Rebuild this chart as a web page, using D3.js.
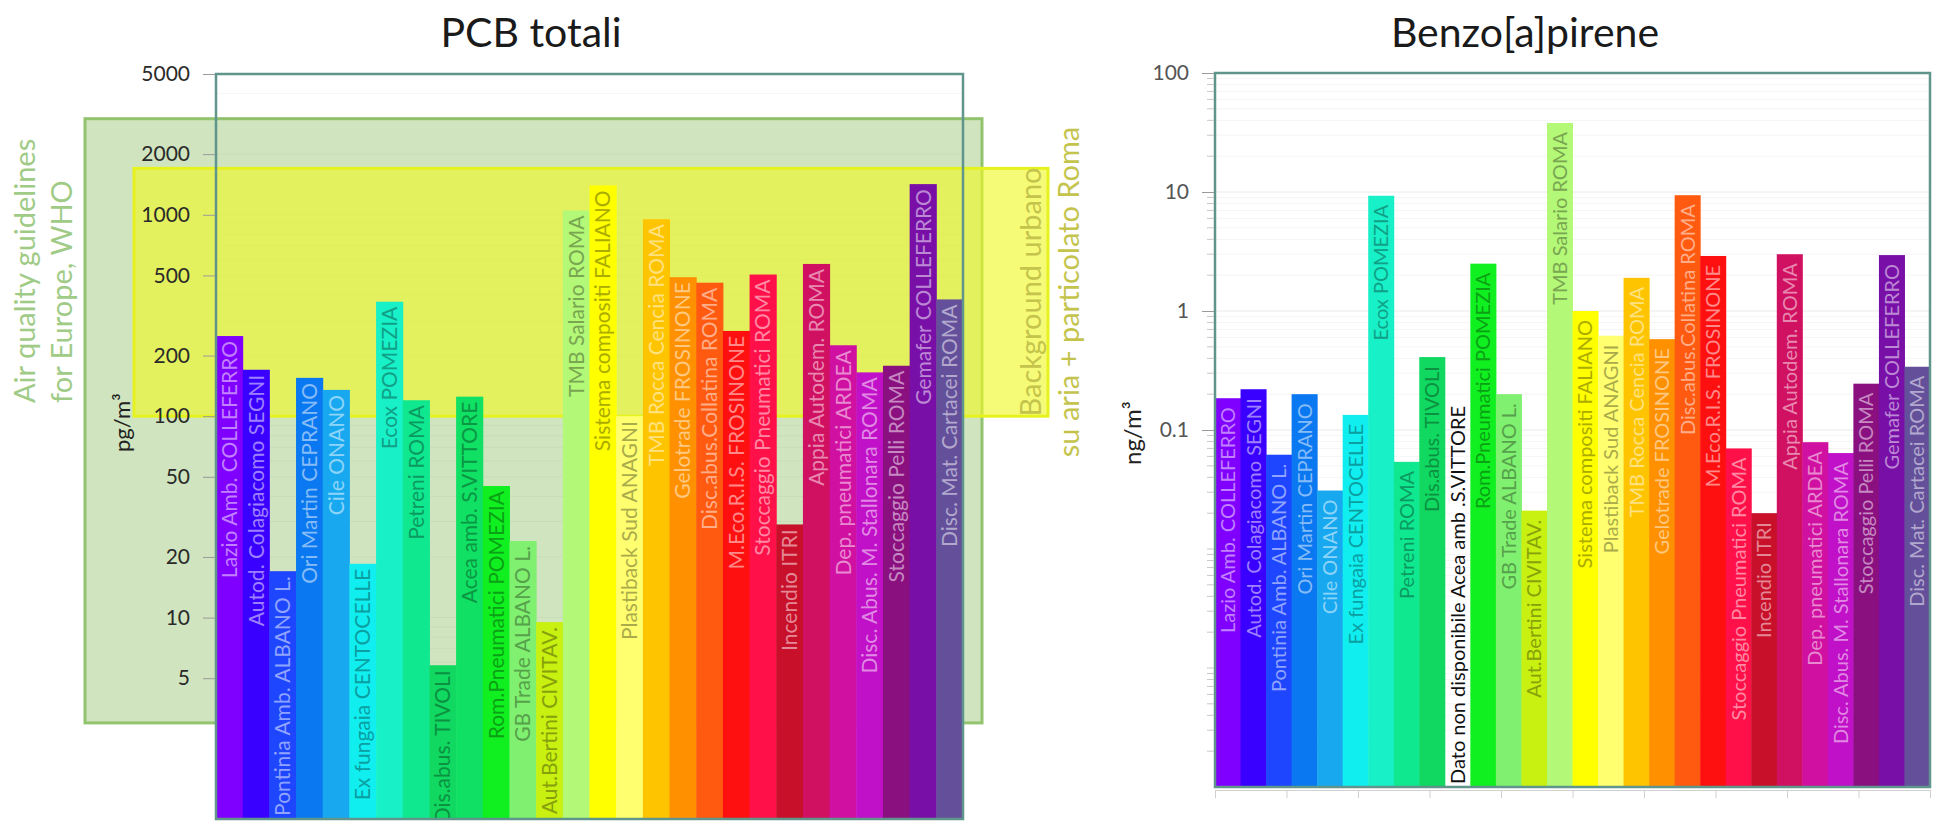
<!DOCTYPE html>
<html><head><meta charset="utf-8">
<script src="https://cdn.jsdelivr.net/npm/d3@7"></script>
<style>
body{margin:0;background:#fff;}
svg{display:block;font-family:Lato,"Open Sans",sans-serif;}
</style>
</head><body>
<svg id="c" width="1937" height="821"></svg>
<script>
// ---------------- data ----------------
const categories = [
  "Lazio Amb. COLLEFERRO","Autod. Colagiacomo SEGNI","Pontinia Amb. ALBANO L.","Ori Martin CEPRANO",
  "Cile ONANO","Ex fungaia CENTOCELLE","Ecox POMEZIA","Petreni ROMA","Dis.abus. TIVOLI",
  "Acea amb. S.VITTORE","Rom.Pneumatici POMEZIA","GB Trade  ALBANO L.","Aut.Bertini CIVITAV.",
  "TMB Salario ROMA","Sistema compositi FALIANO","Plastiback Sud ANAGNI","TMB Rocca Cencia ROMA",
  "Gelotrade FROSINONE","Disc.abus.Collatina ROMA","M.Eco.R.I.S. FROSINONE","Stoccaggio Pneumatici ROMA",
  "Incendio ITRI","Appia Autodem. ROMA","Dep. pneumatici  ARDEA","Disc. Abus. M. Stallonara ROMA",
  "Stoccaggio Pelli ROMA","Gemafer COLLEFERRO","Disc. Mat. Cartacei ROMA"
];
// PCB totali, pg/m3
const pcbValues = [250,170,17,155,135,18.5,370,120,5.8,125,45,24,9.5,1050,1400,100,950,490,460,265,505,29,570,225,165,178,1420,380];
// Benzo[a]pirene, ng/m3 (null = not available)
const bapValues = [0.185,0.22,0.062,0.2,0.031,0.134,9.3,0.054,0.41,null,2.5,0.2,0.021,38,1.0,0.62,1.9,0.58,9.4,2.9,0.07,0.02,3.0,0.079,0.064,0.245,2.95,0.34];
const bapMissingLabel = "Dato non disponibile Acea amb .S.VITTORE";
const pcbTicks = [5,10,20,50,100,200,500,1000,2000,5000];
const bapTicks = [0.1,1,10,100];
const whoGuideline = [3,3000];       // pg/m3 band
const romaBackground = [100,1700];   // pg/m3 band
const titles = ["PCB totali","Benzo[a]pirene"];
const units = ["pg/m³","ng/m³"];
const whoText = ["Air quality guidelines","for Europe, WHO"];
const bgText = ["Background urbano","su  aria + particolato Roma"];

// ---------------- style ----------------
const barColors = ["#8000ff","#3a00ff","#1e46ff","#0a78f0","#18a8f0","#10eef0","#18f0c8","#10e890","#10d860",
  "#10e064","#10f020","#80f070","#c8f010","#b4f878","#ffff00","#ffff70","#ffc400","#ff9000","#ff5a10","#ff1010",
  "#ff1048","#c8102a","#d01060","#d010a0","#c010c8","#8a1080","#7810a8","#64509a"];
function labelColor(c){
  const rgb = d3.rgb(c);
  return rgb.g > 200 ? d3.interpolateRgb(c,"#000")(0.33) : d3.interpolateRgb(c,"#fff")(0.5);
}
const frameColor = "#5f958b";

const svg = d3.select("#c");
const defs = svg.append("defs");

// ================= LEFT: PCB =================
const L = {x0:216, x1:963, y0:74, y1:819};
const xL = d3.scaleBand().domain(categories).range([L.x0, L.x1]).padding(0);
const yL = d3.scaleLog().domain([1,5000]).range([L.y1, L.y0]);

// WHO band (green)
svg.append("rect")
  .attr("x", L.x0-131).attr("width", (L.x1+19)-(L.x0-131))
  .attr("y", yL(whoGuideline[1])).attr("height", yL(whoGuideline[0]) - yL(whoGuideline[1]))
  .attr("fill","#d0e5bf").attr("stroke","#92c46f").attr("stroke-width",3);

// faint grid
const minorL = [];
for (let k=0;k<4;k++) for (let m=1;m<10;m++){ const v=m*Math.pow(10,k); if(v>1 && v<=5000) minorL.push(v); }
svg.append("g").selectAll("line").data(minorL).join("line")
  .attr("x1",L.x0).attr("x2",L.x1).attr("y1",d=>yL(d)).attr("y2",d=>yL(d))
  .attr("stroke","#000").attr("stroke-opacity",0.04);

// Roma background band (yellow)
svg.append("rect")
  .attr("x", L.x0-82).attr("width", (L.x1+85)-(L.x0-82))
  .attr("y", yL(romaBackground[1])).attr("height", yL(romaBackground[0]) - yL(romaBackground[1]))
  .attr("fill","rgba(240,248,36,0.62)").attr("stroke","#e6f21e").attr("stroke-width",3);

// bars
svg.append("g").selectAll("rect").data(categories).join("rect")
  .attr("x", d=>xL(d)).attr("width", xL.bandwidth()+0.5)
  .attr("y", (d,i)=>yL(pcbValues[i])).attr("height", (d,i)=>L.y1 - yL(pcbValues[i]))
  .attr("fill", (d,i)=>barColors[i]);

defs.append("clipPath").attr("id","clipL").append("rect")
  .attr("x",L.x0).attr("y",L.y0).attr("width",L.x1-L.x0).attr("height",L.y1-L.y0);
svg.append("g").attr("clip-path","url(#clipL)").selectAll("text").data(categories).join("text")
  .attr("transform",(d,i)=>`translate(${xL(d)+xL.bandwidth()/2},${yL(pcbValues[i])+5}) rotate(-90)`)
  .attr("text-anchor","end").attr("dy","0.36em")
  .attr("font-size",21).attr("fill",(d,i)=>labelColor(barColors[i]))
  .text(d=>d);

// frame
svg.append("rect").attr("x",L.x0).attr("y",L.y0).attr("width",L.x1-L.x0).attr("height",L.y1-L.y0)
  .attr("fill","none").attr("stroke",frameColor).attr("stroke-width",2.5);

// axis
const axL = svg.append("g").attr("transform",`translate(${L.x0-1},0)`)
  .call(d3.axisLeft(yL).tickValues(pcbTicks).tickFormat(d3.format("d")).tickSize(12).tickPadding(13));
axL.select(".domain").remove();
axL.selectAll(".tick line").attr("stroke","#9a9a9a");
axL.selectAll(".tick text").attr("font-size",21).attr("fill","#2a2a2a").attr("font-family","Lato");

// texts
svg.append("text").attr("x",531).attr("y",47).attr("text-anchor","middle")
  .attr("font-size",41).attr("fill","#1a1a1a").text(titles[0]);
svg.append("text").attr("transform","translate(122,452) rotate(-90)").attr("dy","0.35em")
  .attr("font-size",22).attr("fill","#222").text(units[0]);
whoText.forEach((t,i)=>{
  svg.append("text").attr("transform",`translate(${25+i*37},403) rotate(-90)`).attr("dy","0.36em")
    .attr("font-size",29).attr("fill","#9fcb86").text(t);
});
bgText.forEach((t,i)=>{
  svg.append("text").attr("transform",`translate(${1031+i*38},292) rotate(-90)`).attr("dy","0.36em")
    .attr("text-anchor","middle").attr("font-size",29).attr("fill","#c4c44c").text(t);
});

// ================= RIGHT: BaP =================
const R = {x0:1215, x1:1930, y0:73, y1:787};
const xR = d3.scaleBand().domain(categories).range([R.x0, R.x1]).padding(0);
const yR = d3.scaleLog().domain([0.0001,100]).range([R.y1, R.y0]);

const minorR = [];
for (let k=-4;k<2;k++) for (let m=1;m<10;m++){ const v=m*Math.pow(10,k); if(v>0.0001 && v<100.0001) minorR.push(v); }
minorR.push(100);
svg.append("g").selectAll("line").data(minorR).join("line")
  .attr("x1",R.x0).attr("x2",R.x1).attr("y1",d=>yR(d)).attr("y2",d=>yR(d))
  .attr("stroke","#000").attr("stroke-opacity",d=>bapTicks.includes(d)?0.09:0.045);

// x axis (decorative ticks)
const xTickScale = d3.scaleLinear().domain([0,10]).range([R.x0,R.x1]);
const axX = svg.append("g").attr("transform",`translate(0,${R.y1+3})`)
  .call(d3.axisBottom(xTickScale).ticks(10).tickFormat("").tickSize(8));
axX.selectAll("line,path").attr("stroke","#d0d0d0");

const validIdx = categories.map((c,i)=>i).filter(i=>bapValues[i]!=null);
svg.append("g").selectAll("rect").data(validIdx).join("rect")
  .attr("x", i=>xR(categories[i])).attr("width", xR.bandwidth()+0.5)
  .attr("y", i=>yR(bapValues[i])).attr("height", i=>R.y1 - yR(bapValues[i]))
  .attr("fill", i=>barColors[i]);

svg.append("g").selectAll("text").data(validIdx).join("text")
  .attr("transform",i=>`translate(${xR(categories[i])+xR.bandwidth()/2},${yR(bapValues[i])+9}) rotate(-90)`)
  .attr("text-anchor","end").attr("dy","0.36em")
  .attr("font-size",20).attr("fill",i=>labelColor(barColors[i]))
  .text(i=>categories[i]);
categories.forEach((c,i)=>{
  if (bapValues[i]==null){
    svg.append("text").attr("transform",`translate(${xR(c)+xR.bandwidth()/2},${R.y1-3}) rotate(-90)`)
      .attr("text-anchor","start").attr("dy","0.36em").attr("font-size",20).attr("fill","#111")
      .text(bapMissingLabel);
  }
});

svg.append("rect").attr("x",R.x0).attr("y",R.y0).attr("width",R.x1-R.x0).attr("height",R.y1-R.y0)
  .attr("fill","none").attr("stroke",frameColor).attr("stroke-width",2.5);

const axR = svg.append("g").attr("transform",`translate(${R.x0-1},0)`)
  .call(d3.axisLeft(yR).tickValues(bapTicks).tickFormat(d=>d3.format("~g")(d)).tickSize(12).tickPadding(13));
axR.select(".domain").remove();
axR.selectAll(".tick line").attr("stroke","#9a9a9a");
axR.selectAll(".tick text").attr("font-size",21).attr("fill","#555").attr("font-family","Lato");
svg.append("g").selectAll("line").data(minorR.filter(v=>!bapTicks.includes(v))).join("line")
  .attr("x1",R.x0-8).attr("x2",R.x0-1).attr("y1",d=>yR(d)).attr("y2",d=>yR(d))
  .attr("stroke","#c8c8c8");

svg.append("text").attr("x",1525).attr("y",47).attr("text-anchor","middle")
  .attr("font-size",41).attr("fill","#1a1a1a").text(titles[1]);
svg.append("text").attr("transform","translate(1133,465) rotate(-90)").attr("dy","0.35em")
  .attr("font-size",24).attr("fill","#222").text(units[1]);
</script>
</body></html>
